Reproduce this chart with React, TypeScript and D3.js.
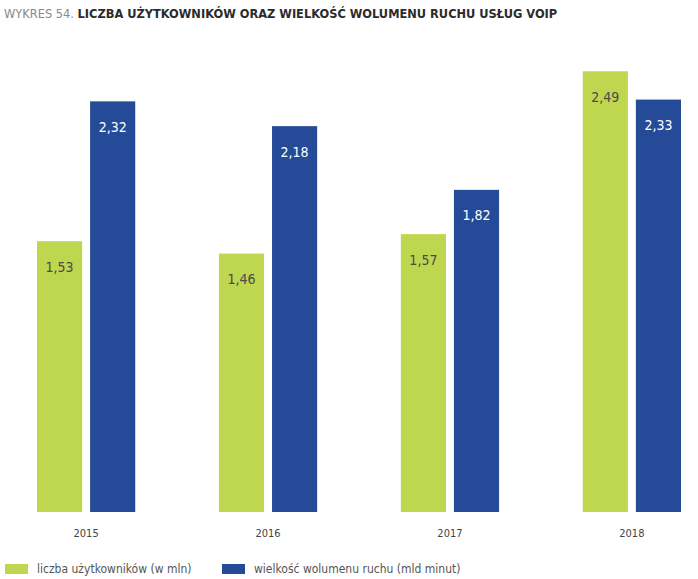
import { useEffect, useRef } from 'react';
import * as d3 from 'd3';

const years = ['2015', '2016', '2017', '2018'];
const users = [1.53, 1.46, 1.57, 2.49];
const volume = [2.32, 2.18, 1.82, 2.33];
const seriesNames = ['liczba użytkowników (w mln)', 'wielkość wolumenu ruchu (mld minut)'];
const seriesColors = ['#bfd74f', '#254b98'];
const labelColors = ['#4a4a4a', '#ffffff'];

const width = 698;
const height = 579;

export default function App() {
  const svgRef = useRef<SVGSVGElement>(null);

  useEffect(() => {
    if (!svgRef.current) return;
    const svg = d3.select(svgRef.current);
    svg.selectAll('*').remove();

    const font = '"DejaVu Sans Condensed", "DejaVu Sans", sans-serif';

    // title
    const title = svg
      .append('text')
      .attr('x', 4)
      .attr('y', 18)
      .style('font-family', font)
      .style('font-size', '12.7px');
    title.append('tspan').attr('fill', '#8a8a8a').text('WYKRES 54. ');
    title
      .append('tspan')
      .attr('fill', '#2b2b2b')
      .style('font-weight', 'bold')
      .text('LICZBA UŻYTKOWNIKÓW ORAZ WIELKOŚĆ WOLUMENU RUCHU USŁUG VOIP');

    const x0 = d3
      .scaleBand()
      .domain(years)
      .range([37, 681])
      .paddingInner(0.46)
      .paddingOuter(0);

    const x1 = d3
      .scaleBand()
      .domain(['0', '1'])
      .range([0, x0.bandwidth()])
      .paddingInner(0.15);

    const y = d3.scaleLinear().domain([0, 2.5]).range([512, 69.5]);

    const rows = years.map((yr, i) => ({ year: yr, values: [users[i], volume[i]] }));

    const groups = svg
      .selectAll('g.year')
      .data(rows)
      .enter()
      .append('g')
      .attr('class', 'year')
      .attr('transform', (d) => `translate(${x0(d.year)},0)`);

    groups
      .selectAll('rect')
      .data((d) => d.values.map((v, s) => ({ v, s })))
      .enter()
      .append('rect')
      .attr('x', (d) => x1(String(d.s))!)
      .attr('y', (d) => y(d.v))
      .attr('width', x1.bandwidth())
      .attr('height', (d) => y(0) - y(d.v))
      .attr('fill', (d) => seriesColors[d.s]);

    groups
      .selectAll('text.val')
      .data((d) => d.values.map((v, s) => ({ v, s })))
      .enter()
      .append('text')
      .attr('class', 'val')
      .attr('x', (d) => x1(String(d.s))! + x1.bandwidth() / 2)
      .attr('y', (d) => y(d.v) + 30.5)
      .attr('text-anchor', 'middle')
      .style('font-family', font)
      .style('font-size', '14px')
      .attr('fill', (d) => labelColors[d.s])
      .text((d) => d.v.toFixed(2).replace('.', ','));

    // year labels
    svg
      .selectAll('text.yr')
      .data(years)
      .enter()
      .append('text')
      .attr('class', 'yr')
      .attr('x', (d) => x0(d)! + x0.bandwidth() / 2)
      .attr('y', 537)
      .attr('text-anchor', 'middle')
      .style('font-family', font)
      .style('font-size', '11px')
      .attr('fill', '#444')
      .text((d) => d);

    // legend
    const legendX = [5, 222];
    seriesNames.forEach((name, i) => {
      svg
        .append('rect')
        .attr('x', legendX[i])
        .attr('y', 564)
        .attr('width', 23)
        .attr('height', 10)
        .attr('fill', seriesColors[i]);
      svg
        .append('text')
        .attr('x', legendX[i] + 32)
        .attr('y', 573)
        .style('font-family', font)
        .style('font-size', '12px')
        .attr('fill', '#555')
        .text(name);
    });
  }, []);

  return (
    <svg
      ref={svgRef}
      width={width}
      height={height}
      viewBox={`0 0 ${width} ${height}`}
      style={{ position: 'absolute', left: 0, top: 0, background: '#fff' }}
    />
  );
}
